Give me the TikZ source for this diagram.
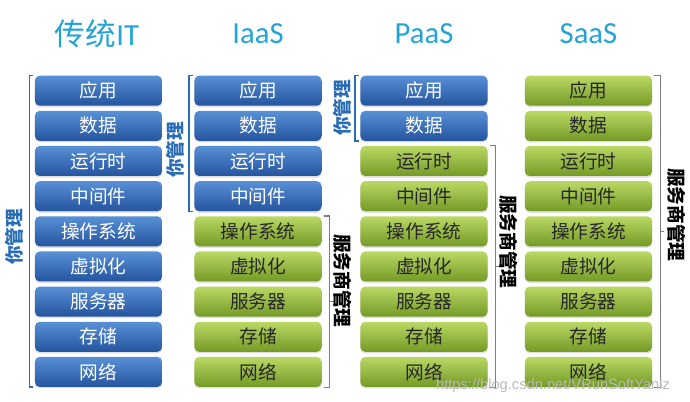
\documentclass[tikz,border=0pt]{standalone}
\usepackage{fontspec}
\newfontfamily\cjk{Noto Sans CJK SC}
\newfontfamily\titlefont{Carlito}
\newfontfamily\markfont{Liberation Sans}
\definecolor{ownlight}{RGB}{88,144,214}
\definecolor{owndark}{RGB}{36,84,158}
\definecolor{venlight}{RGB}{186,216,100}
\definecolor{vendark}{RGB}{116,154,38}
\definecolor{titleblue}{RGB}{34,164,216}
\definecolor{ownblue}{RGB}{40,108,182}
\definecolor{bracketgray}{RGB}{125,125,125}
\usetikzlibrary{calc, shadows}

\begin{document}
\begin{tikzpicture}[
    x=0.75pt, y=-0.75pt,
    block/.style={rounded corners=3.5pt, minimum width=95.3pt, minimum height=22.5pt, inner sep=0pt,
      font=\cjk\fontsize{14}{14}\selectfont, drop shadow={opacity=0.25, shadow xshift=0pt, shadow yshift=-1.2pt}},
    own/.style={block, top color=ownlight, bottom color=owndark, text=white},
    vendor/.style={block, top color=venlight, bottom color=vendark, text=black!85},
    title/.style={text=titleblue, font=\titlefont\fontsize{23}{26}\selectfont},
    ownbrack/.style={draw=ownblue, line width=1.1pt},
    venbrack/.style={draw=bracketgray, line width=0.9pt},
    ownlabel/.style={text=ownblue, font=\cjk\bfseries\fontsize{14}{14}\selectfont, rotate=90},
    venlabel/.style={text=black, font=\cjk\bfseries\fontsize{14}{14}\selectfont, rotate=-90}
]
  \useasboundingbox (0,0) rectangle (690,402);

  % Titles
  \node[title] (tIT) at (97, 34) {{\cjk 传统}IT};
  \node[title] (tIaaS) at (258, 34) {IaaS};
  \node[title] (tPaaS) at (424, 34) {PaaS};
  \node[title] (tSaaS) at (588.5, 34) {SaaS};

  % 传统IT column
  \node[own] (T1) at (98.5, 90.7) {应用};
  \node[own] (T2) at (98.5, 125.9) {数据};
  \node[own] (T3) at (98.5, 161.0) {运行时};
  \node[own] (T4) at (98.5, 196.2) {中间件};
  \node[own] (T5) at (98.5, 231.3) {操作系统};
  \node[own] (T6) at (98.5, 266.5) {虚拟化};
  \node[own] (T7) at (98.5, 301.6) {服务器};
  \node[own] (T8) at (98.5, 336.8) {存储};
  \node[own] (T9) at (98.5, 371.9) {网络};

  % IaaS column
  \node[own] (I1) at (258, 90.7) {应用};
  \node[own] (I2) at (258, 125.9) {数据};
  \node[own] (I3) at (258, 161.0) {运行时};
  \node[own] (I4) at (258, 196.2) {中间件};
  \node[vendor] (I5) at (258, 231.3) {操作系统};
  \node[vendor] (I6) at (258, 266.5) {虚拟化};
  \node[vendor] (I7) at (258, 301.6) {服务器};
  \node[vendor] (I8) at (258, 336.8) {存储};
  \node[vendor] (I9) at (258, 371.9) {网络};

  % PaaS column
  \node[own] (P1) at (424, 90.7) {应用};
  \node[own] (P2) at (424, 125.9) {数据};
  \node[vendor] (P3) at (424, 161.0) {运行时};
  \node[vendor] (P4) at (424, 196.2) {中间件};
  \node[vendor] (P5) at (424, 231.3) {操作系统};
  \node[vendor] (P6) at (424, 266.5) {虚拟化};
  \node[vendor] (P7) at (424, 301.6) {服务器};
  \node[vendor] (P8) at (424, 336.8) {存储};
  \node[vendor] (P9) at (424, 371.9) {网络};

  % SaaS column
  \node[vendor] (S1) at (588.5, 90.7) {应用};
  \node[vendor] (S2) at (588.5, 125.9) {数据};
  \node[vendor] (S3) at (588.5, 161.0) {运行时};
  \node[vendor] (S4) at (588.5, 196.2) {中间件};
  \node[vendor] (S5) at (588.5, 231.3) {操作系统};
  \node[vendor] (S6) at (588.5, 266.5) {虚拟化};
  \node[vendor] (S7) at (588.5, 301.6) {服务器};
  \node[vendor] (S8) at (588.5, 336.8) {存储};
  \node[vendor] (S9) at (588.5, 371.9) {网络};

  % Brackets: you manage
  \draw[ownbrack] ([xshift=-1pt]T1.north west) -- ++(-4,0) |- ([xshift=-1pt]T9.south west);
  \draw[ownbrack] ([xshift=-1pt]I1.north west) -- ++(-4,0) |- ([xshift=-1pt]I4.south west);
  \draw[ownbrack] ([xshift=-1pt]P1.north west) -- ++(-4,0) |- ([xshift=-1pt]P2.south west);

  % Brackets: provider manages
  \draw[venbrack] ([xshift=1.5pt]I5.north east) -- ++(6,0) |- ([xshift=1.5pt]I9.south east);
  \draw[venbrack] ([xshift=1.5pt]P3.north east) -- ++(6,0) |- ([xshift=1.5pt]P9.south east);
  \draw[venbrack] ([xshift=1.5pt]S1.north east) -- ++(6,0) |- ([xshift=1.5pt]S9.south east);
  \draw[venbrack] ($(I5.north east)!0.5!(I9.south east)+(8,0)$) -- ++(4,0);
  \draw[venbrack] ($(P3.north east)!0.5!(P9.south east)+(8,0)$) -- ++(4,0);
  \draw[venbrack] ($(S1.north east)!0.5!(S9.south east)+(8,0)$) -- ++(4,0);

  % Labels
  \node[ownlabel] (lT) at (14, 237) {你管理};
  \node[ownlabel] (lI) at (175, 150) {你管理};
  \node[ownlabel] (lP) at (342, 108) {你管理};
  \node[venlabel] (vI) at (343, 281) {服务商管理};
  \node[venlabel] (vP) at (509, 242) {服务商管理};
  \node[venlabel] (vS) at (677, 215) {服务商管理};

  % Watermark
  \node[text=gray!55, font=\markfont\fontsize{11}{12}\selectfont] (wm) at (553, 386) {https://blog.csdn.net/VRunSoftYanlz};
\end{tikzpicture}
\end{document}
